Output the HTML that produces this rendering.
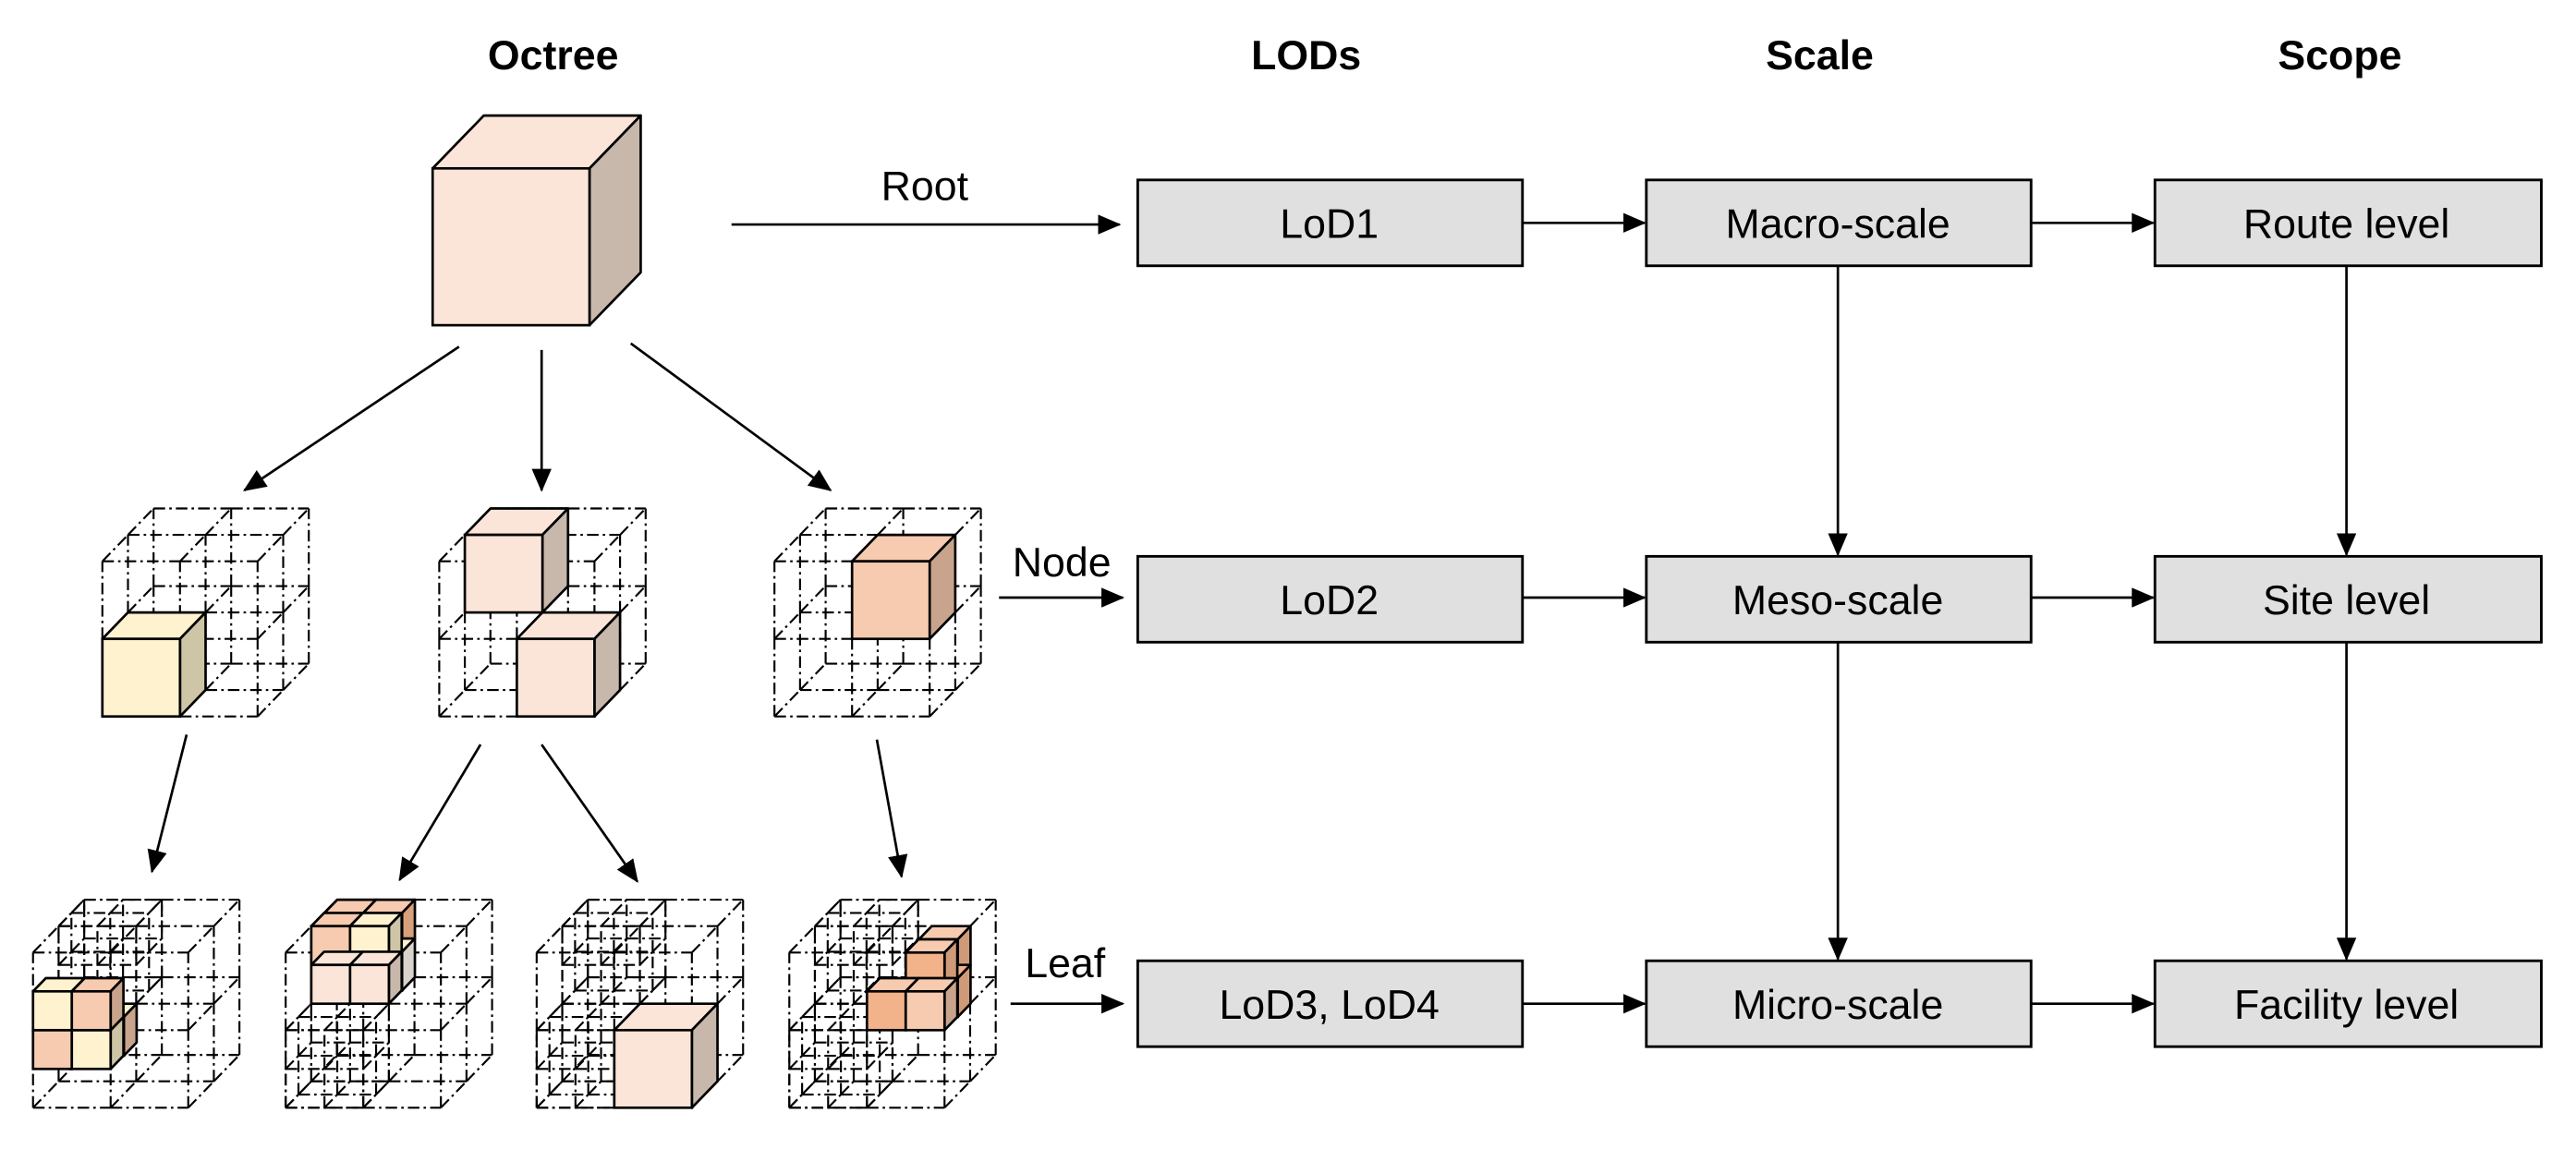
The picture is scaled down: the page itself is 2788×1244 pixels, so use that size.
<!DOCTYPE html>
<html><head><meta charset="utf-8"><style>
html,body{margin:0;padding:0;background:#fff}
svg{display:block}
text{font-family:"Liberation Sans",Arial,sans-serif;fill:#000}
</style></head><body>
<svg id="s" width="2788" height="1244" viewBox="0 0 1560 696" preserveAspectRatio="none" xmlns="http://www.w3.org/2000/svg">
<defs>
<marker id="ah" markerWidth="14" markerHeight="12" refX="13" refY="6" orient="auto" markerUnits="userSpaceOnUse">
<path d="M0,0 L14,6 L0,12 Z" fill="#000"/></marker>
</defs>
<g font-size="25" font-weight="bold" text-anchor="middle">
<text x="335" y="42">Octree</text>
<text x="791" y="42">LODs</text>
<text x="1102" y="42">Scale</text>
<text x="1417" y="42">Scope</text>
</g>
<g stroke="#000" stroke-width="1.6" fill="#e0e0e0">
<rect x="689" y="109" width="233" height="52"/>
<rect x="997" y="109" width="233" height="52"/>
<rect x="1305" y="109" width="234" height="52"/>
<rect x="689" y="337" width="233" height="52"/>
<rect x="997" y="337" width="233" height="52"/>
<rect x="1305" y="337" width="234" height="52"/>
<rect x="689" y="582" width="233" height="52"/>
<rect x="997" y="582" width="233" height="52"/>
<rect x="1305" y="582" width="234" height="52"/>
</g>
<g font-size="25" text-anchor="middle">
<text x="805" y="144">LoD1</text>
<text x="1113" y="144">Macro-scale</text>
<text x="1421" y="144">Route level</text>
<text x="805" y="372">LoD2</text>
<text x="1113" y="372">Meso-scale</text>
<text x="1421" y="372">Site level</text>
<text x="805" y="617">LoD3, LoD4</text>
<text x="1113" y="617">Micro-scale</text>
<text x="1421" y="617">Facility level</text>
<text x="560" y="121">Root</text>
<text x="643" y="349">Node</text>
<text x="645" y="592">Leaf</text>
</g>
<g stroke="#000" stroke-width="1.5" fill="none" marker-end="url(#ah)">
<line x1="443" y1="136" x2="678" y2="136"/>
<line x1="605" y1="362" x2="680" y2="362"/>
<line x1="612" y1="608" x2="680" y2="608"/>
<line x1="922" y1="135" x2="996" y2="135"/>
<line x1="1230" y1="135" x2="1304" y2="135"/>
<line x1="922" y1="362" x2="996" y2="362"/>
<line x1="1230" y1="362" x2="1304" y2="362"/>
<line x1="922" y1="608" x2="996" y2="608"/>
<line x1="1230" y1="608" x2="1304" y2="608"/>
<line x1="1113" y1="161" x2="1113" y2="336"/>
<line x1="1113" y1="389" x2="1113" y2="581"/>
<line x1="1421" y1="161" x2="1421" y2="336"/>
<line x1="1421" y1="389" x2="1421" y2="581"/>
<line x1="278" y1="210" x2="148" y2="297"/>
<line x1="328" y1="212" x2="328" y2="297"/>
<line x1="382" y1="208" x2="503" y2="297"/>
<line x1="113" y1="445" x2="92" y2="528"/>
<line x1="291" y1="451" x2="242" y2="533"/>
<line x1="328" y1="451" x2="386" y2="534"/>
<line x1="531" y1="448" x2="546" y2="531"/>
</g>
<g id="shapes"></g>
</svg>
<script>
var g=document.getElementById('shapes'),NS='http://www.w3.org/2000/svg';
var DX=31,DY=-32;
function el(t,a){var e=document.createElementNS(NS,t);for(var k in a)e.setAttribute(k,a[k]);g.appendChild(e);return e;}
function wire(x,yb,S,n){
  var c=S/n;
  function pt(i,j,k){var dxs=DX*S/94, dys=DY*S/94;return [x+i*c+k*dxs/n, yb-j*c+k*dys/n];}
  var d='';
  for(var i=0;i<=n;i++)for(var j=0;j<=n;j++)for(var k=0;k<=n;k++){
    var a=pt(i,j,k);
    if(i<n){d+='M'+a+'L'+pt(i+1,j,k);}
    if(j<n){d+='M'+a+'L'+pt(i,j+1,k);}
    if(k<n){d+='M'+a+'L'+pt(i,j,k+1);}
  }
  el('path',{d:d,fill:'none',stroke:'#000','stroke-width':1.2,'stroke-dasharray':'7 2.5 1.5 2.5'});
}
function solid(x,yb,s,front,side,top,sc){
  var dx=DX*sc,dy=DY*sc,yt=yb-s;
  el('polygon',{points:[x,yt,x+dx,yt+dy,x+s+dx,yt+dy,x+s,yt].join(' '),fill:top,stroke:'#000','stroke-width':1.5,'stroke-linejoin':'round'});
  el('polygon',{points:[x+s,yt,x+s+dx,yt+dy,x+s+dx,yb+dy,x+s,yb].join(' '),fill:side,stroke:'#000','stroke-width':1.5,'stroke-linejoin':'round'});
  el('rect',{x:x,y:yt,width:s,height:s,fill:front,stroke:'#000','stroke-width':1.5});
}
var PE='#fbe5d8',PS='#c8b8ac',YE='#fff2cf',YS='#cdc5a5',OR='#f7cbb0',OS='#c9a48c',DO='#f2b38a',DS='#cf9a78';
solid(262,197,95,PE,PS,PE,1);
var S=94;
wire(62,434,S,2);
solid(62,434,47,YE,YS,YE,0.5);
wire(266,434,S,2);
solid(266+15.5,434-47-16,47,PE,PS,PE,0.5);
solid(266+47,434,47,PE,PS,PE,0.5);
wire(469,434,S,2);
solid(469+47,434-47,47,OR,OS,OR,0.5);
var L=[20,173,325,478],LB=671,h=47;
L.forEach(function(x){
  wire(x,LB,S,2);
  wire(x+15.5,LB-h-16,h,2);
});
wire(173,LB,h,2);
wire(325,LB,h,2);
wire(478,LB,h,2);
var s=23.5,sc=0.25;
solid(20+8,671-s-8,s,YE,YS,YE,sc);solid(20+s+8,671-s-8,s,OR,OS,YE,sc);
solid(20,671-s,s,OR,OS,OR,sc);solid(20+s,671-s,s,YE,YS,YE,sc);
solid(20,671-2*s,s,YE,YS,YE,sc);solid(20+s,671-2*s,s,OR,OS,OR,sc);
var bx=173+15.5, by=671-47-16;
solid(bx+8,by-s-8,s,OR,OS,OR,sc);solid(bx+s+8,by-s-8,s,OR,'#d9a07c',OR,sc);
solid(bx+s+8,by-8,s,YE,'#d8d4cc',YE,sc);
solid(bx,by-s,s,OR,OS,OR,sc);solid(bx+s,by-s,s,YE,YS,YE,sc);
solid(bx,by,s,PE,PS,PE,sc);solid(bx+s,by,s,PE,PS,PE,sc);
solid(325+47,671,47,PE,PS,PE,0.5);
var cx=478+47, cy=671-47;
solid(cx+s+8,cy-s-8,s,DO,DS,OR,sc);solid(cx+s+8,cy-8,s,DO,DS,DO,sc);
solid(cx+s,cy-s,s,DO,DS,OR,sc);
solid(cx,cy,s,DO,DS,OR,sc);solid(cx+s,cy,s,OR,OS,OR,sc);
</script>
</body></html>
